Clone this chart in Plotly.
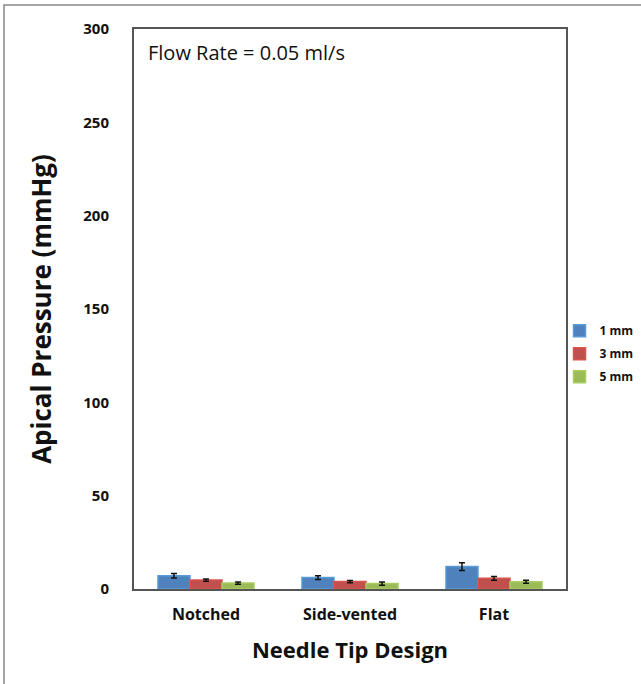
import plotly.graph_objects as go

categories = ["Notched", "Side-vented", "Flat"]
series_names = ["1 mm", "3 mm", "5 mm"]
vals_1mm = [7.1, 6.1, 12.0]
vals_3mm = [4.8, 4.0, 5.7]
vals_5mm = [3.2, 2.9, 3.9]
err_1mm = [1.2, 1.0, 2.1]
err_3mm = [0.6, 0.6, 1.0]
err_5mm = [0.6, 0.9, 0.8]
y_ticks = [0, 50, 100, 150, 200, 250, 300]

fills = ["#4F81BD", "#C0504D", "#9BBB59"]
edges = ["#5B9BD5", "#D9534F", "#A9CC60"]

fig = go.Figure()
for name, vals, errs, fc, ec in zip(series_names, [vals_1mm, vals_3mm, vals_5mm],
                                     [err_1mm, err_3mm, err_5mm], fills, edges):
    fig.add_trace(go.Bar(
        x=categories, y=vals, name=name, legendgroup=name,
        marker=dict(color=fc, line=dict(color=ec, width=1.5)),
        error_y=dict(type="data", array=errs, visible=True, color="#111111",
                     thickness=1.5, width=3),
    ))

font_family = "Open Sans, Noto Sans, sans-serif"

fig.update_layout(
    width=641, height=684,
    margin=dict(l=134, r=75, t=29, b=95, autoexpand=False),
    paper_bgcolor="white", plot_bgcolor="white",
    barmode="group", bargap=0.333, bargroupgap=0,
    font=dict(family=font_family, color="#111111"),
    showlegend=True,
    legend=dict(
        x=0.985, y=0.42, xanchor="left", yanchor="middle",
        font=dict(size=12, family=font_family, weight="bold"),
        itemwidth=30, traceorder="grouped", tracegroupgap=4,
        bgcolor="rgba(0,0,0,0)",
    ),
    xaxis=dict(
        showline=True, linecolor="#555555", linewidth=2, mirror=True,
        showgrid=False, ticks="", zeroline=False, ticklabelstandoff=10,
        tickfont=dict(size=16, family=font_family, weight="bold"),
        title=dict(text="Needle Tip Design", standoff=18,
                   font=dict(size=22, family=font_family, weight="bold")),
    ),
    yaxis=dict(
        range=[0, 300], tickvals=y_ticks, ticktext=[str(t) for t in y_ticks],
        showline=True, linecolor="#555555", linewidth=2, mirror=True,
        showgrid=False, ticks="", zeroline=False, ticklabelstandoff=20,
        tickfont=dict(size=15, family=font_family, weight="bold"),
        title=dict(text="Apical Pressure (mmHg)", standoff=24,
                   font=dict(size=26, family=font_family, weight="bold")),
    ),
    annotations=[dict(
        text="Flow Rate = 0.05 ml/s", xref="paper", yref="paper",
        x=0.028, y=0.985, xanchor="left", yanchor="top", showarrow=False,
        font=dict(size=20, family=font_family, color="#111111"),
    )],
    shapes=[dict(
        type="rect", xref="paper", yref="paper",
        x0=(4 - 134) / 432, x1=(700 - 134) / 432,
        y0=(589 - 720) / 560, y1=1 + 24 / 560,
        line=dict(color="#888888", width=1.5), fillcolor="rgba(0,0,0,0)",
        layer="below",
    )],
)

fig.write_html("out.html")
